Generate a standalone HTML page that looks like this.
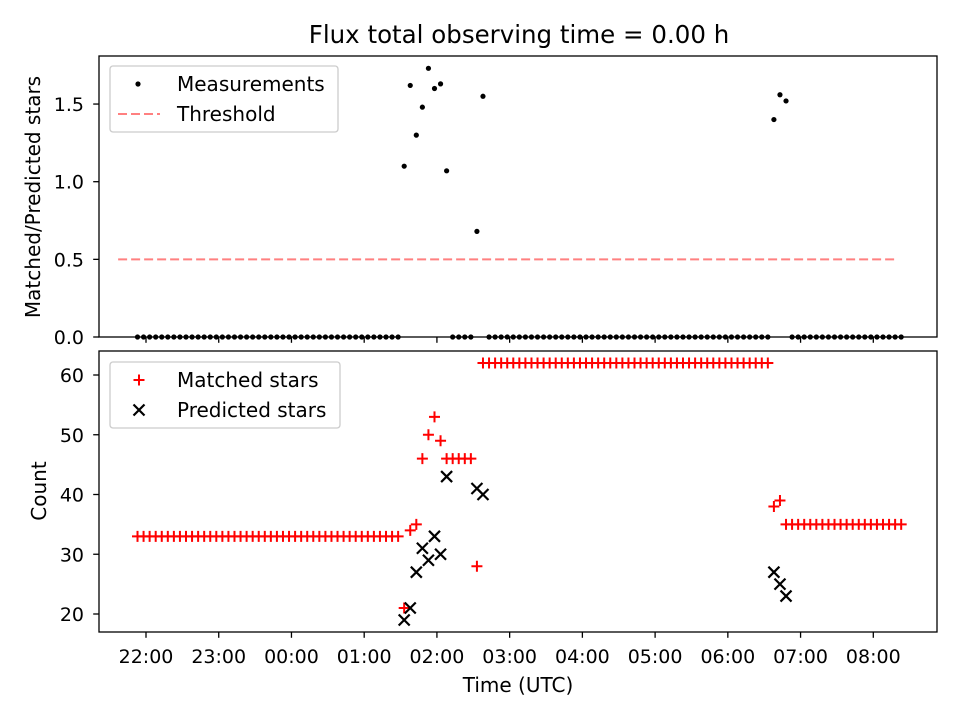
<!DOCTYPE html>
<html><head><meta charset="utf-8"><style>
body{margin:0;background:#fff}
svg text{font-family:"DejaVu Sans","Liberation Sans",sans-serif;fill:#000}
</style></head><body>
<svg id="c" width="960" height="720" xmlns="http://www.w3.org/2000/svg">
<rect width="960" height="720" fill="#fff"/>
<text x="519" y="43" font-size="24.5" text-anchor="middle">Flux total observing time = 0.00 h</text>
<g id="topPanel"></g>
<g id="botPanel"></g>
<text x="518" y="692" font-size="20" text-anchor="middle">Time (UTC)</text>
<text transform="translate(40,197) rotate(-90)" font-size="20" text-anchor="middle">Matched/Predicted stars</text>
<text transform="translate(46,491) rotate(-90)" font-size="20" text-anchor="middle">Count</text>
</svg>
<script>
// minutes since 22:00 UTC
const times=[-7,-2,3,8,13,18,23,28,33,38,43,48,53,58,63,68,73,78,83,88,93,98,103,108,113,118,123,128,133,138,143,148,153,158,163,168,173,178,183,188,193,198,203,208,
213,218,223,228,233,238,243,248,253,258,263,268,273,278,
283,288,293,298,303,308,313,318,323,328,333,338,343,348,353,358,363,368,373,378,383,388,393,398,403,408,413,418,423,428,433,438,443,448,453,458,463,468,473,478,483,488,493,498,503,508,513,
518,523,528,
533,538,543,548,553,558,563,568,573,578,583,588,593,598,603,608,613,618,623];
const ratio=[0,0,0,0,0,0,0,0,0,0,0,0,0,0,0,0,0,0,0,0,0,0,0,0,0,0,0,0,0,0,0,0,0,0,0,0,0,0,0,0,0,0,0,0,
1.10,1.62,1.30,1.48,1.73,1.60,1.63,1.07,0,0,0,0,0.68,1.55,
0,0,0,0,0,0,0,0,0,0,0,0,0,0,0,0,0,0,0,0,0,0,0,0,0,0,0,0,0,0,0,0,0,0,0,0,0,0,0,0,0,0,0,0,0,0,0,
1.40,1.56,1.52,
0,0,0,0,0,0,0,0,0,0,0,0,0,0,0,0,0,0,0];
const matched=[33,33,33,33,33,33,33,33,33,33,33,33,33,33,33,33,33,33,33,33,33,33,33,33,33,33,33,33,33,33,33,33,33,33,33,33,33,33,33,33,33,33,33,33,
21,34,35,46,50,53,49,46,46,46,46,46,28,62,
62,62,62,62,62,62,62,62,62,62,62,62,62,62,62,62,62,62,62,62,62,62,62,62,62,62,62,62,62,62,62,62,62,62,62,62,62,62,62,62,62,62,62,62,62,62,62,
38,39,35,
35,35,35,35,35,35,35,35,35,35,35,35,35,35,35,35,35,35,35];
const predicted=[null,null,null,null,null,null,null,null,null,null,null,null,null,null,null,null,null,null,null,null,null,null,null,null,null,null,null,null,null,null,null,null,null,null,null,null,null,null,null,null,null,null,null,null,
19,21,27,31,29,33,30,43,null,null,null,null,41,40,
null,null,null,null,null,null,null,null,null,null,null,null,null,null,null,null,null,null,null,null,null,null,null,null,null,null,null,null,null,null,null,null,null,null,null,null,null,null,null,null,null,null,null,null,null,null,null,
27,25,23,
null,null,null,null,null,null,null,null,null,null,null,null,null,null,null,null,null,null,null];
const threshold=0.5;
const thresholdRange=[-23,619];
const xTickLabels=["22:00","23:00","00:00","01:00","02:00","03:00","04:00","05:00","06:00","07:00","08:00"];
const xTickMinutes=[0,60,120,180,240,300,360,420,480,540,600];
const topTicks=[0,0.5,1.0,1.5];
const topTickLabels=["0.0","0.5","1.0","1.5"];
const botTicks=[20,30,40,50,60];

const NS="http://www.w3.org/2000/svg";
const L=99,R=937;
const T1=56,B1=337,T2=351,B2=632;
const xs=t=>146+t*72.73/60;
const y1=v=>337-v*155.3;
const y2=v=>614-(v-20)*5.975;
function mk(tag,attrs,parent){const e=document.createElementNS(NS,tag);for(const k in attrs)e.setAttribute(k,attrs[k]);parent.appendChild(e);return e;}
const topG=document.getElementById('topPanel'),botG=document.getElementById('botPanel');

// top panel
const thr=mk('line',{x1:xs(thresholdRange[0]),x2:xs(thresholdRange[1]),y1:y1(threshold),y2:y1(threshold),stroke:'#ff8080','stroke-width':2,'stroke-dasharray':'9,4'},topG);


ratio.forEach((v,i)=>{const c=mk('circle',{cx:xs(times[i]),cy:y1(v),r:2.6,fill:'#000'},topG);

});
// bottom panel
function plus(x,y,p){return mk('path',{d:`M${x-5.5} ${y}H${x+5.5}M${x} ${y-5.5}V${y+5.5}`,stroke:'#f00','stroke-width':2},p);}
function cross(x,y,p){return mk('path',{d:`M${x-5.5} ${y-5.5}L${x+5.5} ${y+5.5}M${x-5.5} ${y+5.5}L${x+5.5} ${y-5.5}`,stroke:'#000','stroke-width':2.2},p);}
matched.forEach((v,i)=>{if(v==null)return;const e=plus(xs(times[i]),y2(v),botG);

});
predicted.forEach((v,i)=>{if(v==null)return;const e=cross(xs(times[i]),y2(v),botG);

});

// frames
[[T1,B1,topG],[T2,B2,botG]].forEach(([t,b,p])=>{const f=mk('rect',{x:L,y:t,width:R-L,height:b-t,fill:'none',stroke:'#000','stroke-width':1.3},p);


xTickMinutes.forEach(m=>mk('line',{x1:xs(m),x2:xs(m),y1:b,y2:b+5.8,stroke:'#000','stroke-width':1.3},p));});
xTickMinutes.forEach((m,i)=>{const tx=mk('text',{x:xs(m),y:663,'font-size':19,'text-anchor':'middle'},botG);tx.textContent=xTickLabels[i];

});
topTicks.forEach((v,i)=>{mk('line',{x1:L-5.8,x2:L,y1:y1(v),y2:y1(v),stroke:'#000','stroke-width':1.3},topG);
const tx=mk('text',{x:L-15,y:y1(v)+7,'font-size':19,'text-anchor':'end'},topG);tx.textContent=topTickLabels[i];

});
botTicks.forEach(v=>{mk('line',{x1:L-5.8,x2:L,y1:y2(v),y2:y2(v),stroke:'#000','stroke-width':1.3},botG);
const tx=mk('text',{x:L-15,y:y2(v)+7,'font-size':19,'text-anchor':'end'},botG);tx.textContent=v;

});

// legends
const lg1=mk('g',{},topG);


mk('rect',{x:110,y:66,width:228,height:66,rx:3,fill:'#fff','fill-opacity':0.8,stroke:'#ccc','stroke-width':1.3},lg1);
mk('circle',{cx:138,cy:84,r:2.6,fill:'#000'},lg1);
const t1=mk('text',{x:177,y:91,'font-size':20},lg1);t1.textContent='Measurements';
mk('line',{x1:118,x2:160,y1:114,y2:114,stroke:'#ff8080','stroke-width':2,'stroke-dasharray':'9,4'},lg1);
const t2=mk('text',{x:177,y:121,'font-size':20},lg1);t2.textContent='Threshold';
const lg2=mk('g',{},botG);


mk('rect',{x:110,y:362,width:230,height:66,rx:3,fill:'#fff','fill-opacity':0.8,stroke:'#ccc','stroke-width':1.3},lg2);
plus(139,380,lg2);
const t3=mk('text',{x:177,y:387,'font-size':20},lg2);t3.textContent='Matched stars';
cross(139,410,lg2);
const t4=mk('text',{x:177,y:417,'font-size':20},lg2);t4.textContent='Predicted stars';
</script>
</body></html>
